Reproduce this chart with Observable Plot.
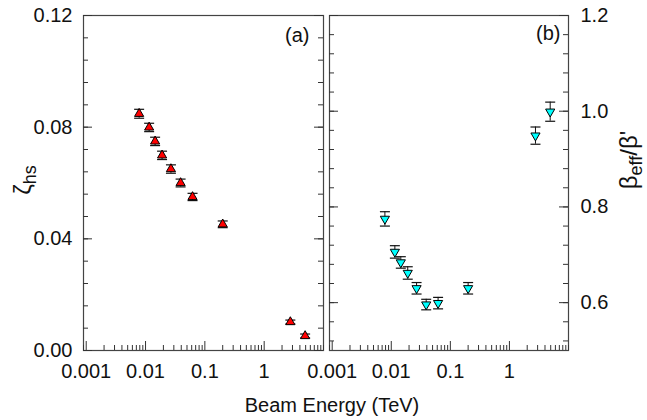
<!DOCTYPE html>
<html><head><meta charset="utf-8">
<script src="https://cdn.jsdelivr.net/npm/d3@7"></script>
<script src="https://cdn.jsdelivr.net/npm/@observablehq/plot@0.6"></script>
<style>
body{margin:0;background:#fff;}
#wrap{position:relative;width:647px;height:420px;font-family:"Liberation Sans",Arial,sans-serif;color:#111;}
#wrap svg{position:absolute;top:0;}
.lab{position:absolute;font-size:20px;line-height:20px;white-space:nowrap;}
.lab sub{font-size:18px;vertical-align:-0.25em;line-height:0;}
</style></head><body><div id="wrap"></div>
<script>
// Beam energies (TeV)
const energy = [0.0078, 0.0115, 0.0145, 0.019, 0.0268, 0.039, 0.062, 0.2, 2.76, 4.9];
// panel (a): zeta_hs
const zetaHs  = [0.0848, 0.0799, 0.0749, 0.0699, 0.0650, 0.0600, 0.0550, 0.0452, 0.0102, 0.0052];
const zetaErr = [0.0016, 0.0015, 0.0015, 0.0015, 0.0015, 0.0014, 0.0013, 0.0012, 0.0007, 0.0007];
// panel (b): beta_eff / beta'
const betaRatio = [0.775, 0.706, 0.684, 0.662, 0.630, 0.596, 0.599, 0.630, 0.949, 0.999];
const betaErr   = [0.015, 0.013, 0.012, 0.013, 0.012, 0.011, 0.012, 0.012, 0.018, 0.020];

const xTickValues = [0.001, 0.01, 0.1, 1];
const xTickLabels = ["0.001", "0.01", "0.1", "1"];
const yTickValuesA = [0, 0.04, 0.08, 0.12];
const yTickLabelsA = ["0.00", "0.04", "0.08", "0.12"];
const yTickValuesB = [0.6, 0.8, 1.0, 1.2];
const yTickLabelsB = ["0.6", "0.8", "1.0", "1.2"];

const xDomain = [0.0009, 10];
const H = 420, mTop = 15, mBottom = 70;
const frameH = H - mTop - mBottom;

const rowsA = energy.map((e, i) => ({e, v: zetaHs[i], err: zetaErr[i]}));
const rowsB = energy.map((e, i) => ({e, v: betaRatio[i], err: betaErr[i]}));

const capSymbol = {draw(ctx, size) { const r = Math.sqrt(size / Math.PI); ctx.moveTo(-r, 0); ctx.lineTo(r, 0); }};
const triDown = {draw(ctx, size) {
  const y = Math.sqrt(size / (3 * Math.sqrt(3)));
  ctx.moveTo(0, 2 * y); ctx.lineTo(-Math.sqrt(3) * y, -y); ctx.lineTo(Math.sqrt(3) * y, -y); ctx.closePath();
}};

const xMinor = d3.scaleLog().domain(xDomain).ticks().filter(d => !xTickValues.includes(d));
const tickColor = "#333";

function ticksMarks(frameW, yMinor, yMajor) {
  return [
    Plot.tickX(xMinor, {x: d => d, insetTop: frameH - 5, stroke: tickColor}),
    Plot.tickX(xTickValues, {x: d => d, insetTop: frameH - 9, stroke: tickColor}),
    Plot.tickY(yMinor, {y: d => d, insetRight: frameW - 5, stroke: tickColor}),
    Plot.tickY(yMinor, {y: d => d, insetLeft: frameW - 5, stroke: tickColor}),
    Plot.tickY(yMajor, {y: d => d, insetRight: frameW - 9, stroke: tickColor}),
    Plot.tickY(yMajor, {y: d => d, insetLeft: frameW - 9, stroke: tickColor})
  ];
}

function errMarks(rows) {
  return [
    Plot.ruleX(rows, {x: "e", y1: d => d.v - d.err, y2: d => d.v + d.err, stroke: "#111", strokeWidth: 1}),
    Plot.dot(rows, {x: "e", y: d => d.v + d.err, symbol: capSymbol, r: 5, stroke: "#111", fill: "none", strokeWidth: 1.2}),
    Plot.dot(rows, {x: "e", y: d => d.v - d.err, symbol: capSymbol, r: 5, stroke: "#111", fill: "none", strokeWidth: 1.2})
  ];
}

const style = {background: "transparent", fontFamily: "Liberation Sans, Arial, sans-serif", fontSize: "20px", color: "#111"};

// Panel (a)
const wA = 330, mlA = 83, mrA = 7;
const fwA = wA - mlA - mrA;
const plotA = Plot.plot({
  width: wA, height: H, marginLeft: mlA, marginRight: mrA, marginTop: mTop, marginBottom: mBottom,
  style,
  x: {type: "log", domain: xDomain, axis: null},
  y: {domain: [0, 0.12], axis: null},
  marks: [
    Plot.frame({stroke: "#444", strokeWidth: 1.2}),
    ...ticksMarks(fwA, d3.range(0, 0.1201, 0.008), yTickValuesA),
    Plot.axisX(xTickValues, {label: null, tickSize: 0, tickPadding: 13, tickFormat: d => xTickLabels[xTickValues.indexOf(d)]}),
    Plot.axisY(yTickValuesA, {label: null, anchor: "left", tickSize: 0, tickPadding: 11, tickFormat: d => yTickLabelsA[yTickValuesA.indexOf(d)]}),
    ...errMarks(rowsA),
    Plot.dot(rowsA, {x: "e", y: "v", symbol: "triangle", r: 3.4, fill: "#ff0000", stroke: "#000", strokeWidth: 1}),
    Plot.text(["(a)"], {frameAnchor: "top-right", dx: -14, dy: 12, fontSize: 20})
  ]
});
plotA.style.left = "0px";

// Panel (b)
const wB = 347, mlB = 29, mrB = 79;
const fwB = wB - mlB - mrB;
const plotB = Plot.plot({
  width: wB, height: H, marginLeft: mlB, marginRight: mrB, marginTop: mTop, marginBottom: mBottom,
  style,
  x: {type: "log", domain: xDomain, axis: null},
  y: {domain: [0.5, 1.2], axis: null},
  marks: [
    Plot.frame({stroke: "#444", strokeWidth: 1.2}),
    ...ticksMarks(fwB, d3.range(0.52, 1.2001, 0.04), yTickValuesB),
    Plot.axisX(xTickValues, {label: null, tickSize: 0, tickPadding: 13, tickFormat: d => xTickLabels[xTickValues.indexOf(d)]}),
    Plot.axisY(yTickValuesB, {label: null, anchor: "right", tickSize: 0, tickPadding: 12, tickFormat: d => yTickLabelsB[yTickValuesB.indexOf(d)]}),
    ...errMarks(rowsB),
    Plot.dot(rowsB, {x: "e", y: "v", symbol: triDown, r: 3.4, fill: "#00ffff", stroke: "#000", strokeWidth: 1}),
    Plot.text(["(b)"], {frameAnchor: "top-right", dx: -8, dy: 10, fontSize: 20})
  ]
});
plotB.style.left = "300px";

const wrap = document.getElementById("wrap");
wrap.append(plotA, plotB);

function addLabel(html, css) {
  const d = document.createElement("div");
  d.className = "lab";
  d.innerHTML = html;
  Object.assign(d.style, css);
  wrap.append(d);
}
addLabel("Beam Energy (TeV)", {left: "332px", top: "395px", transform: "translateX(-50%)"});
addLabel("ζ<sub>hs</sub>", {left: "23px", top: "180px", transform: "translate(-50%,-50%) rotate(-90deg)", fontSize: "24px"});
addLabel("β<sub>eff</sub>/β'", {left: "629px", top: "160px", transform: "translate(-50%,-50%) rotate(-90deg)", fontSize: "24px"});
</script></body></html>
